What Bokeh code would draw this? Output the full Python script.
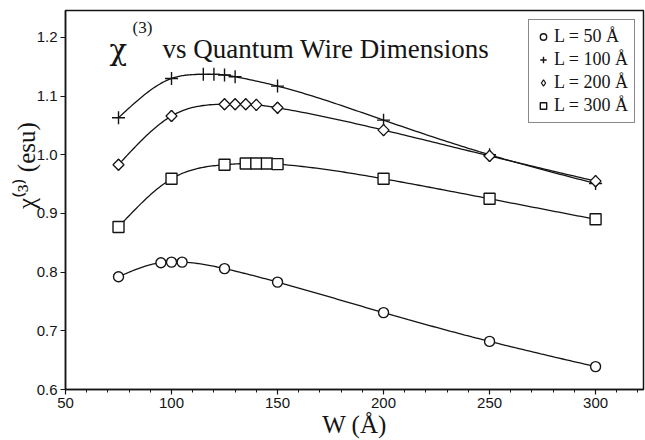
import numpy as np
from bokeh.plotting import figure
from bokeh.models import Label, Legend, LegendItem, Range1d, FixedTicker, NumeralTickFormatter
from bokeh.embed import file_html
from bokeh.resources import INLINE

# ---- data ----
w_l50 = [75, 95, 100, 105, 125, 150, 200, 250, 300]
chi_l50 = [0.792, 0.816, 0.817, 0.817, 0.806, 0.783, 0.731, 0.682, 0.639]
w_l100 = [75, 100, 115, 120, 125, 130, 150, 200, 250, 300]
chi_l100 = [1.063, 1.130, 1.137, 1.137, 1.136, 1.133, 1.117, 1.059, 1.000, 0.951]
w_l200 = [75, 100, 125, 130, 135, 140, 150, 200, 250, 300]
chi_l200 = [0.983, 1.066, 1.086, 1.086, 1.086, 1.085, 1.080, 1.042, 0.998, 0.955]
w_l300 = [75, 100, 125, 135, 140, 145, 150, 200, 250, 300]
chi_l300 = [0.877, 0.959, 0.983, 0.985, 0.985, 0.985, 0.984, 0.959, 0.925, 0.890]
series_labels = ["L = 50 Å", "L = 100 Å", "L = 200 Å", "L = 300 Å"]
x_ticks = [50, 100, 150, 200, 250, 300]
y_ticks = [0.6, 0.7, 0.8, 0.9, 1.0, 1.1, 1.2]


def smooth(xs, ys, per_seg=30):
    """Natural cubic spline drawn through the data points (line rendering only)."""
    x = np.asarray(xs, float)
    y = np.asarray(ys, float)
    k = len(x)
    h = np.diff(x)
    A = np.zeros((k, k))
    b = np.zeros(k)
    A[0, 0] = A[-1, -1] = 1.0
    for i in range(1, k - 1):
        A[i, i - 1] = h[i - 1]
        A[i, i] = 2 * (h[i - 1] + h[i])
        A[i, i + 1] = h[i]
        b[i] = 3 * ((y[i + 1] - y[i]) / h[i] - (y[i] - y[i - 1]) / h[i - 1])
    c = np.linalg.solve(A, b)
    bx, by = [], []
    for i in range(k - 1):
        bi = (y[i + 1] - y[i]) / h[i] - h[i] * (2 * c[i] + c[i + 1]) / 3
        di = (c[i + 1] - c[i]) / (3 * h[i])
        t = np.linspace(0, h[i], per_seg, endpoint=(i == k - 2))
        bx.extend(x[i] + t)
        by.extend(y[i] + bi * t + c[i] * t ** 2 + di * t ** 3)
    return bx, by


INK = "#141414"
SERIF = "Liberation Serif"
SANS = "Liberation Sans"

p = figure(width=645, height=440, output_backend="svg", toolbar_location=None,
           x_range=Range1d(50, 322.6), y_range=Range1d(0.6, 1.2458),
           min_border_left=65, min_border_right=2, min_border_top=10, min_border_bottom=49)
p.xgrid.visible = False
p.ygrid.visible = False
p.outline_line_color = INK
p.outline_line_width = 1.5
p.background_fill_color = "white"
p.border_fill_color = "white"

p.xaxis.ticker = FixedTicker(ticks=x_ticks, minor_ticks=list(range(50, 330, 10)))
p.yaxis.ticker = FixedTicker(ticks=y_ticks, minor_ticks=[])
p.yaxis.formatter = NumeralTickFormatter(format="0.0")
for ax in (p.xaxis[0], p.yaxis[0]):
    ax.axis_line_color = INK
    ax.axis_line_width = 1.5
    ax.major_tick_line_color = INK
    ax.major_tick_line_width = 1.2
    ax.major_tick_in = 0
    ax.major_tick_out = 5
    ax.minor_tick_line_color = INK
    ax.minor_tick_in = 0
    ax.minor_tick_out = 3
    ax.major_label_text_font = SANS
    ax.major_label_text_font_size = "15px"
    ax.major_label_text_color = INK
    ax.major_label_standoff = 3
    ax.axis_label_text_font = SERIF
    ax.axis_label_text_font_style = "normal"
    ax.axis_label_text_color = INK

p.xaxis.axis_label = "W (Å)"
p.xaxis.axis_label_text_font_size = "25px"
p.xaxis.axis_label_standoff = 0
# leading no-break spaces re-centre the rotated label (its superscripts are measured wide)
p.yaxis.axis_label = "\u00a0" * 11 + "χ⁽³⁾ (esu)"
p.yaxis.axis_label_text_font_size = "25px"
p.yaxis.axis_label_standoff = -6

datasets = [(w_l50, chi_l50), (w_l100, chi_l100), (w_l200, chi_l200), (w_l300, chi_l300)]
for xs, ys in datasets:
    sx, sy = smooth(xs, ys)
    p.line(sx, sy, line_color=INK, line_width=1.3)

# legend swatch renderer for the diamond series (hidden under the plotted diamonds)
r200_key = p.scatter(w_l200, chi_l200, marker="diamond", size=11.5, fill_color="white",
                     line_color=INK, line_width=1.2)
r50 = p.scatter(w_l50, chi_l50, marker="circle", size=10, fill_color="white",
                line_color=INK, line_width=1.4)
r100 = p.scatter(w_l100, chi_l100, marker="cross", size=13,
                 line_color=INK, line_width=1.4)
r200 = p.scatter(w_l200, chi_l200, marker="square", size=7.8, angle=np.pi / 4,
                 fill_color="white", line_color=INK, line_width=1.3)
r300 = p.scatter(w_l300, chi_l300, marker="square", size=11, fill_color="white",
                 line_color=INK, line_width=1.4)

legend = Legend(items=[LegendItem(label=lab, renderers=[r])
                       for lab, r in zip(series_labels, [r50, r100, r200_key, r300])],
                location=(463, 266), orientation="vertical")
legend.border_line_color = INK
legend.border_line_width = 1.5
legend.background_fill_color = "white"
legend.background_fill_alpha = 1.0
legend.padding = 6
legend.spacing = 2
legend.margin = 0
legend.glyph_width = 16
legend.glyph_height = 19
legend.label_height = 19
legend.label_standoff = 3
legend.label_text_font = SERIF
legend.label_text_font_size = "18px"
legend.label_text_color = INK
p.add_layout(legend)


# helpers converting reference pixel positions to data positions
def dx(px):
    return 50 + (px - 65) / 2.12


def dy(py):
    return 0.6 + (391 - py) / 590.0


# title inside the frame
p.add_layout(Label(x=dx(109), y=dy(50), text="χ", text_font="DejaVu Serif", text_font_size="29px",
                   text_color=INK, text_baseline="alphabetic"))
p.add_layout(Label(x=dx(132), y=dy(27), text="(3)", text_font=SERIF, text_font_size="17px",
                   text_color=INK, text_baseline="alphabetic"))
p.add_layout(Label(x=dx(162), y=dy(49), text="vs Quantum Wire Dimensions", text_font=SERIF,
                   text_font_size="27px", text_color=INK, text_baseline="alphabetic"))

open("out.html", "w").write(file_html(p, INLINE))
